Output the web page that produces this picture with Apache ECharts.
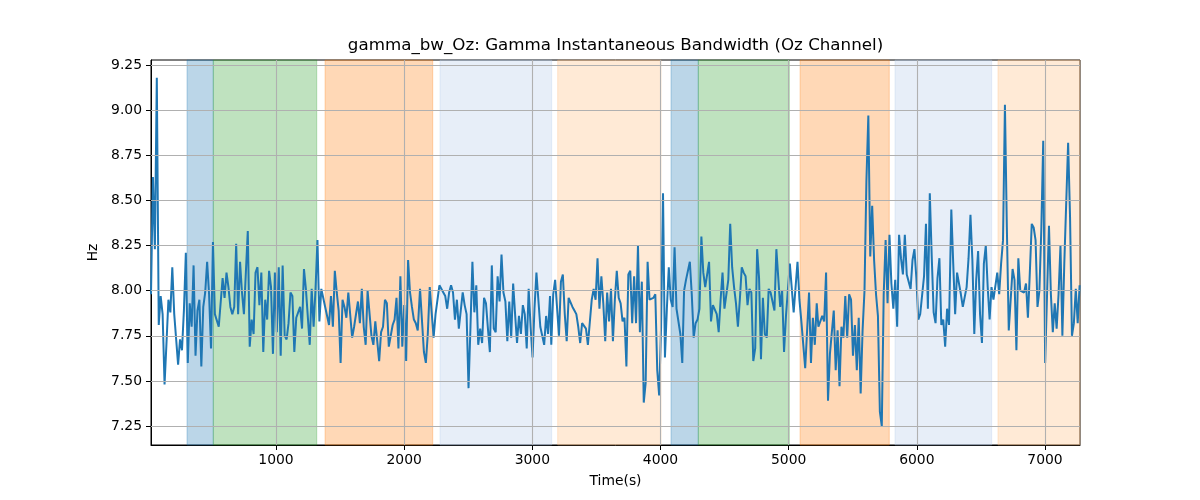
<!DOCTYPE html>
<html>
<head>
<meta charset="utf-8">
<script src="https://cdn.jsdelivr.net/npm/echarts@6/dist/echarts.min.js"></script>
<style>html,body{margin:0;padding:0;background:#fff}#c{width:1200px;height:500px}</style>
</head>
<body>
<div id="c"></div>
<script>
// ---- data ----
const titleText = 'gamma_bw_Oz: Gamma Instantaneous Bandwidth (Oz Channel)';
const xTicks = [1000, 2000, 3000, 4000, 5000, 6000, 7000];
const yTicks = [7.25, 7.50, 7.75, 8.00, 8.25, 8.50, 8.75, 9.00, 9.25];

// time span of each read-off segment (s)
const segStart = [25, 1068, 2124, 3148, 4184, 5232, 6269];
const segEnd   = [1052, 2106, 3138, 4170, 5219, 6251, 7270];

const seg1 = [7.98,8.63,8.23,9.18,7.81,7.97,7.87,7.48,7.71,7.95,7.88,8.13,7.87,7.73,7.59,7.73,7.67,7.89,8.21,7.60,7.93,7.80,8.14,7.64,7.89,7.95,7.58,7.91,7.99,8.16,7.98,7.68,8.27,7.87,7.87,7.80,7.80,8.07,7.96,8.10,8.02,7.91,7.87,7.91,8.26,7.87,8.16,7.99,7.87,8.10,8.33,7.69,7.84,7.76,8.10,8.13,7.92,8.10,7.66,7.95,7.84,8.11,8.02,7.65,8.10,7.77,8.13,7.64,8.14];
const seg2 = [7.75,7.73,7.82,7.99,7.97,7.66,7.85,7.85,7.91,7.79,8.12,8.01,8.02,7.70,8.01,7.80,8.01,8.28,7.83,8.01,8.00,7.91,7.86,7.81,7.97,7.80,8.11,7.99,7.89,7.60,7.95,7.91,7.85,7.99,7.98,7.74,7.80,7.79,7.94,7.82,8.01,7.80,7.70,8.00,8.00,7.75,7.70,7.83,7.72,7.61,7.77,7.80,7.95,7.93,7.69,7.70,7.81,7.84,7.96,7.68,8.08,7.69,7.92,7.61,8.17,7.99,7.91,7.84,7.82,7.78];
const seg3 = [8.01,8.00,7.66,7.60,7.76,8.02,8.03,7.74,7.87,7.95,8.03,8.02,7.99,7.97,7.90,7.99,8.03,7.99,7.84,7.95,7.79,7.80,7.99,7.92,7.87,7.46,7.80,8.16,7.88,8.03,7.70,7.79,7.71,7.96,7.93,7.79,7.66,8.14,7.79,7.77,8.08,7.94,8.20,7.99,7.94,7.72,7.94,7.74,8.04,7.87,7.71,7.86,7.76,7.92,7.87,7.68,8.01,7.80,7.63,7.90,8.10,7.95,7.80,7.80,7.70,7.86,7.76,7.97];
const seg4 = [7.70,7.98,8.06,8.05,7.75,8.05,8.09,7.87,7.72,7.96,7.96,7.91,7.89,7.87,7.80,7.71,7.82,7.81,7.79,7.70,7.71,7.95,8.01,7.95,8.18,7.90,8.08,7.93,7.72,7.99,7.83,8.01,7.72,7.95,8.11,7.96,7.93,7.83,7.85,7.58,8.09,8.11,7.82,8.08,7.82,8.25,7.77,8.05,7.38,7.49,8.16,7.95,7.96,7.96,7.98,7.56,7.42,7.80,8.54,7.63,7.90,8.13,7.95,7.91,8.24,7.90,7.91,7.76,7.60];
const seg5 = [8.00,8.06,8.07,8.16,7.98,7.74,7.82,7.84,7.90,8.30,8.10,8.02,8.02,8.16,7.83,7.92,7.93,7.87,7.77,7.95,8.10,7.90,7.98,8.06,8.37,8.13,8.02,7.93,7.80,7.95,8.13,8.10,8.08,7.92,8.01,7.99,7.61,7.68,8.23,8.07,7.62,7.96,7.76,7.74,8.01,7.99,8.00,7.89,8.23,8.22,7.91,8.00,7.66,7.86,7.85,8.15,8.16,7.88,7.88,8.16,7.95,7.83,7.84,7.57,7.78,7.99,7.60,7.85,7.70,7.93];
const seg6 = [7.80,7.80,7.86,7.83,8.10,7.39,7.65,7.66,7.89,7.56,7.78,7.47,7.80,7.74,7.97,7.74,7.98,7.95,7.64,7.81,7.56,7.85,7.43,7.78,8.00,8.61,8.97,8.19,8.47,8.17,7.98,7.86,7.33,7.25,7.98,8.28,7.93,8.31,8.04,7.90,8.06,7.80,8.31,8.18,8.09,8.31,8.09,8.08,8.01,8.17,8.23,8.07,7.84,7.87,7.88,8.08,8.37,7.90,8.54,8.19,7.88,7.82,8.07,8.18,7.81,7.84,7.69,7.90,7.81];
const seg7 = [8.45,8.15,7.87,8.10,8.10,7.98,7.91,7.90,8.02,8.18,8.42,8.17,7.76,8.06,8.22,7.87,7.71,8.15,8.25,8.02,7.84,8.02,7.95,7.95,8.10,7.98,8.15,8.28,9.03,8.35,7.78,7.95,8.12,8.06,7.67,8.18,8.00,7.99,7.99,8.04,7.85,8.10,8.37,8.35,8.28,7.91,8.00,8.34,8.83,7.60,7.98,8.36,7.98,7.77,7.93,7.79,7.98,8.25,7.75,8.15,8.16,8.82,8.41,7.75,7.82,8.01,7.82,8.03];

// shaded phases
const bandStart = [306, 511, 1383, 2280, 3198, 4082, 4295, 5089, 5830, 6633];
const bandEnd   = [511, 1318, 2223, 3151, 4004, 4295, 5005, 5785, 6584, 7300];
const bandKind  = ['blue','green','orange','lightblue','lightorange','blue','green','orange','lightblue','lightorange'];

// ---- build ----
const bandColor = {
  blue: 'rgba(31,119,180,0.3)', green: 'rgba(44,160,44,0.3)', orange: 'rgba(255,127,14,0.3)',
  lightblue: 'rgba(174,199,232,0.3)', lightorange: 'rgba(255,187,120,0.3)'
};
const segs = [seg1, seg2, seg3, seg4, seg5, seg6, seg7];
const points = [];
segs.forEach((s, k) => {
  const n = s.length;
  for (let i = 0; i < n; i++) {
    const t = segStart[k] + (segEnd[k] - segStart[k]) * (n > 1 ? i / (n - 1) : 0);
    points.push([t, s[i]]);
  }
});

const FONT = 'DejaVu Sans';
const chart = echarts.init(document.getElementById('c'), null, {renderer: 'canvas'});
chart.setOption({
  animation: false,
  backgroundColor: '#fff',
  graphic: [{
    type: 'text', x: 615.5, y: 46,
    style: {text: titleText, textAlign: 'center', textVerticalAlign: 'middle',
            font: '16.7px "DejaVu Sans"', fill: '#000'}
  }],
  grid: {left: 151, right: 120, top: 60, bottom: 55, show: true,
         borderColor: '#000', borderWidth: 1, backgroundColor: 'transparent'},
  xAxis: {
    type: 'value', min: 25, max: 7273,
    name: 'Time(s)', nameLocation: 'middle', nameGap: 29,
    nameTextStyle: {fontFamily: FONT, fontSize: 13.9, color: '#000'},
    axisLine: {show: true, lineStyle: {color: '#000', width: 1}},
    axisTick: {show: true, inside: false, length: 5, lineStyle: {color: '#000'}, customValues: xTicks},
    axisLabel: {fontFamily: FONT, fontSize: 13.9, color: '#000', margin: 8, customValues: xTicks,
                formatter: v => String(Math.round(v))},
    splitLine: {show: false}
  },
  yAxis: {
    type: 'value', min: 7.145, max: 9.278,
    name: 'Hz', nameLocation: 'middle', nameGap: 48, nameRotate: 90,
    nameTextStyle: {fontFamily: FONT, fontSize: 13.9, color: '#000'},
    axisLine: {show: true, lineStyle: {color: '#000', width: 1}},
    axisTick: {show: true, inside: false, length: 5, lineStyle: {color: '#000'}, customValues: yTicks},
    axisLabel: {fontFamily: FONT, fontSize: 13.9, color: '#000', margin: 9, customValues: yTicks,
                formatter: v => v.toFixed(2)},
    splitLine: {show: false}
  },
  series: [
    {
      type: 'line', data: [], z: 1, silent: true,
      markArea: {
        silent: true,
        data: bandStart.map((s, i) => [
          {xAxis: s, itemStyle: {color: bandColor[bandKind[i]], borderColor: bandColor[bandKind[i]], borderWidth: 1}},
          {xAxis: bandEnd[i]}
        ])
      }
    },
    {
      type: 'line', data: [], z: 2, silent: true,
      markLine: {
        silent: true, symbol: ['none', 'none'], label: {show: false},
        lineStyle: {color: '#b0b0b0', width: 1.1, type: 'solid'},
        emphasis: {disabled: true},
        data: yTicks.map(v => ({yAxis: v})).concat(xTicks.map(v => ({xAxis: v})))
      }
    },
    {
      type: 'line', data: points, z: 3, showSymbol: false, symbol: 'none',
      lineStyle: {color: '#1f77b4', width: 2}, itemStyle: {color: '#1f77b4'}
    }
  ]
});
</script>
</body>
</html>
